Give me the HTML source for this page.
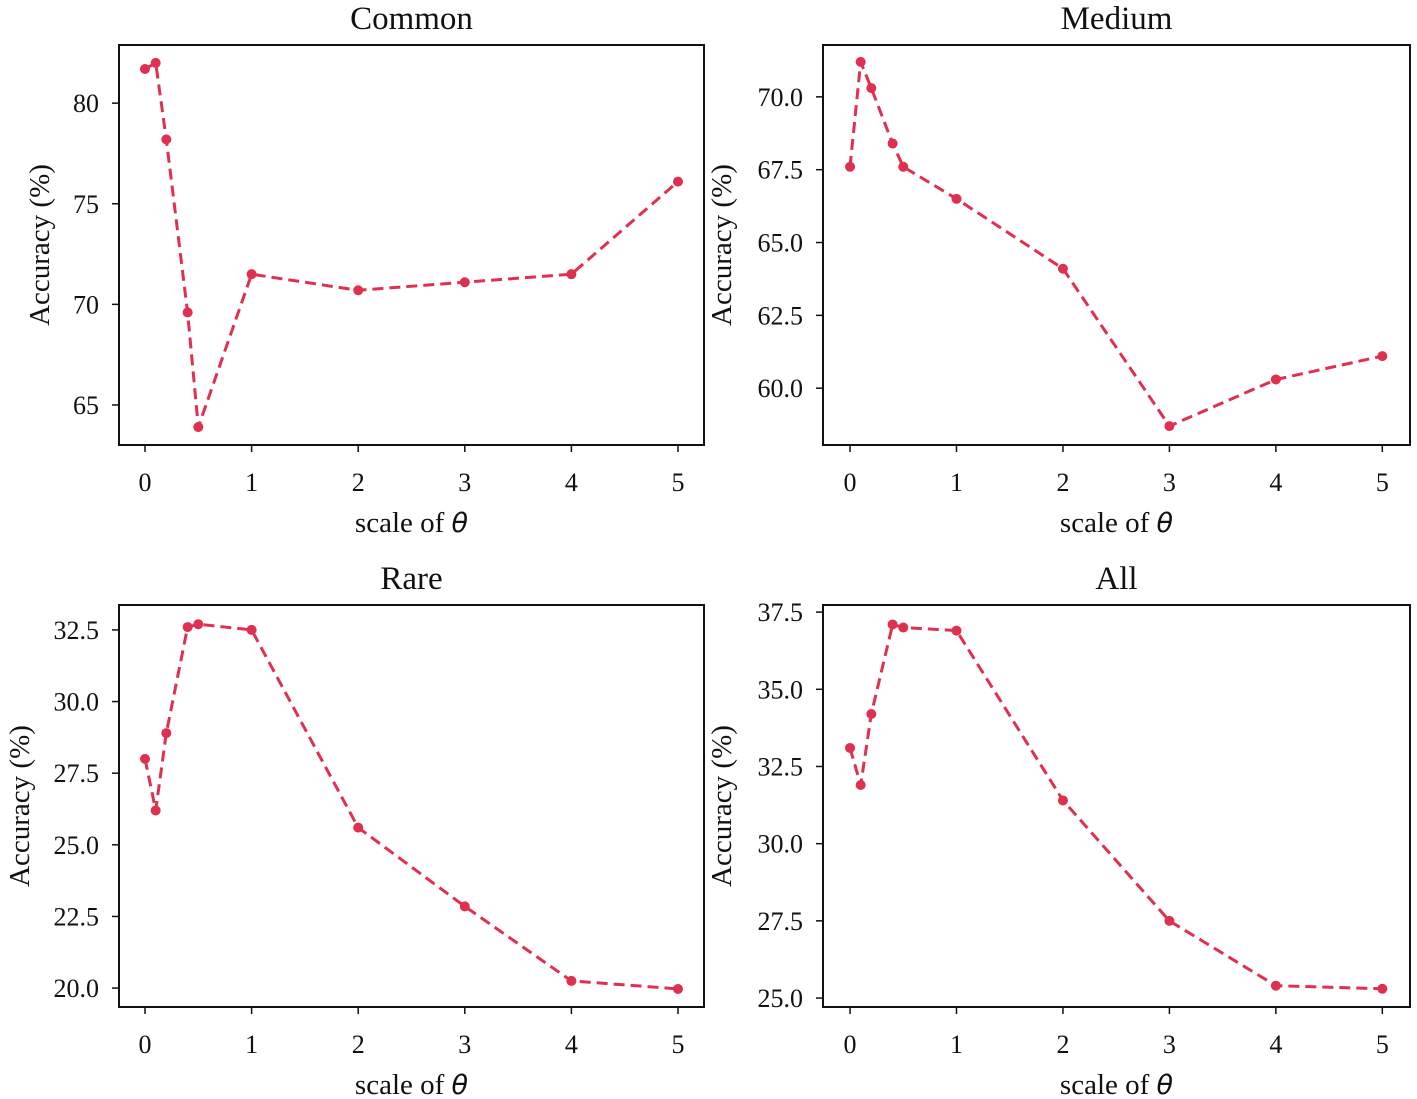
<!DOCTYPE html>
<html><head><meta charset="utf-8">
<style>
html,body{margin:0;padding:0;background:#fff;}
svg{display:block;}
text{font-family:"Liberation Serif",serif;fill:#111;}
</style></head>
<body>
<svg id="chart" width="1417" height="1099" viewBox="0 0 1417 1099" xmlns="http://www.w3.org/2000/svg"></svg>
<script>
const xValues = [0, 0.1, 0.2, 0.4, 0.5, 1, 2, 3, 4, 5];
const xTicks = [0, 1, 2, 3, 4, 5];
const commonValues = [81.7, 82.0, 78.2, 69.6, 63.9, 71.5, 70.7, 71.1, 71.5, 76.1];
const mediumValues = [67.6, 71.2, 70.3, 68.4, 67.6, 66.5, 64.1, 58.7, 60.3, 61.1];
const rareValues = [28.0, 26.2, 28.9, 32.6, 32.7, 32.5, 25.6, 22.85, 20.25, 19.97];
const allValues = [33.1, 31.9, 34.2, 37.1, 37.0, 36.9, 31.4, 27.5, 25.4, 25.3];
const commonTicks = ["65", "70", "75", "80"];
const mediumTicks = ["60.0", "62.5", "65.0", "67.5", "70.0"];
const rareTicks = ["20.0", "22.5", "25.0", "27.5", "30.0", "32.5"];
const allTicks = ["25.0", "27.5", "30.0", "32.5", "35.0", "37.5"];
const titles = ["Common", "Medium", "Rare", "All"];

const NS = "http://www.w3.org/2000/svg";
const svg = document.getElementById("chart");
function mk(tag, attrs, parent) {
  const e = document.createElementNS(NS, tag);
  for (const k in attrs) e.setAttribute(k, attrs[k]);
  (parent || svg).appendChild(e);
  return e;
}
const panels = [
  {name:"common", vals:commonValues, ticks:commonTicks, box:[119,45,704,445], ydom:[63.01,82.89], xdom:[-0.244,5.244], ylabX:40},
  {name:"medium", vals:mediumValues, ticks:mediumTicks, box:[823,45,1410,445], ydom:[58.05,71.78], xdom:[-0.254,5.26], ylabX:722},
  {name:"rare", vals:rareValues, ticks:rareTicks, box:[119,605,704,1007], ydom:[19.34,33.37], xdom:[-0.244,5.244], ylabX:20},
  {name:"all", vals:allValues, ticks:allTicks, box:[823,605,1410,1007], ydom:[24.71,37.73], xdom:[-0.254,5.26], ylabX:722}
];
panels.forEach((p, i) => {
  const [x0,y0,x1,y1] = p.box;
  const g = mk("g", {});
  
  
  const xs = v => x0 + (v - p.xdom[0]) / (p.xdom[1] - p.xdom[0]) * (x1 - x0);
  const ys = v => y1 - (v - p.ydom[0]) / (p.ydom[1] - p.ydom[0]) * (y1 - y0);
  const t = mk("text", {x:(x0+x1)/2, y:y0-16, "text-anchor":"middle", "font-size":"33"}, g);
  t.textContent = titles[i];
  
  
  const r = mk("rect", {x:x0, y:y0, width:x1-x0, height:y1-y0, fill:"none", stroke:"#111", "stroke-width":"2"}, g);
  
  
  xTicks.forEach(v => {
    const X = xs(v);
    mk("line", {x1:X, x2:X, y1:y1, y2:y1+7, stroke:"#111", "stroke-width":"1.5"}, g);
    const tl = mk("text", {x:X, y:y1+46, "text-anchor":"middle", "font-size":"26"}, g);
    tl.textContent = v;
    
    
  });
  p.ticks.forEach(s => {
    const Y = ys(parseFloat(s));
    mk("line", {x1:x0-7, x2:x0, y1:Y, y2:Y, stroke:"#111", "stroke-width":"1.5"}, g);
    const tl = mk("text", {x:x0-20, y:Y+9, "text-anchor":"end", "font-size":"26"}, g);
    tl.textContent = s;
    
    
  });
  const xl = mk("text", {x:(x0+x1)/2, y:y1+87, "text-anchor":"middle", "font-size":"29"}, g);
  xl.innerHTML = 'scale of <tspan font-family="DejaVu Sans, sans-serif" font-style="italic" font-size="27">θ</tspan>';
  
  
  const cy = (y0+y1)/2;
  const yl = mk("text", {x:p.ylabX, y:cy, "text-anchor":"middle", "font-size":"29", transform:`rotate(-90 ${p.ylabX} ${cy})`, dy:"9"}, g);
  yl.textContent = "Accuracy (%)";
  
  
  const pts = xValues.map((v, k) => xs(v).toFixed(1) + "," + ys(p.vals[k]).toFixed(1)).join(" ");
  const pl = mk("polyline", {points:pts, fill:"none", stroke:"#e0304f", "stroke-width":"3", "stroke-dasharray":"11,6"}, g);
  
  
  xValues.forEach((v, k) => {
    const c = mk("circle", {cx:xs(v), cy:ys(p.vals[k]), r:"5", fill:"#e0304f"}, g);
    
    
  });
});
</script>
</body></html>
